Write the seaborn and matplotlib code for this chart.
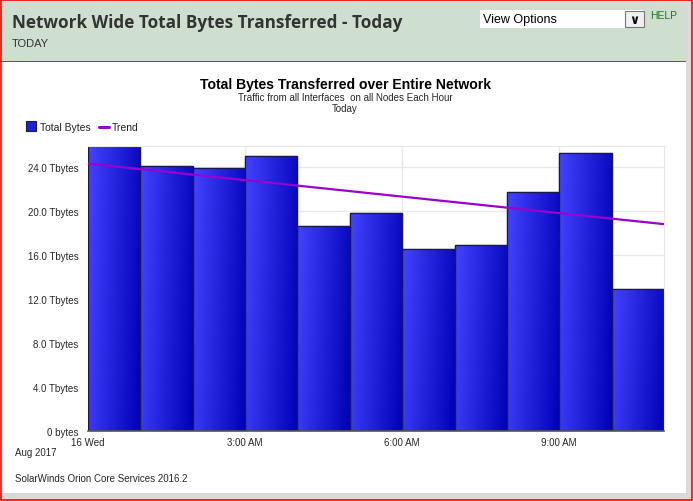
"""
Network wide total bytes per hour, with trend line
"""
import numpy as np
import pandas as pd
import matplotlib
matplotlib.use('Agg')
import matplotlib.pyplot as plt
from matplotlib.patches import Rectangle
from matplotlib.colors import LinearSegmentedColormap
import seaborn as sns

# data (Tbytes per hour, 16 Wed Aug 2017)
hours = [0, 1, 2, 3, 4, 5, 6, 7, 8, 9, 10]
total_tbytes = [25.9, 24.1, 23.9, 25.0, 18.6, 19.8, 16.5, 16.9, 21.7, 25.3, 12.9]
trend_x = [0, 11]
trend_tbytes = [24.3, 18.8]
y_ticks = [0, 4, 8, 12, 16, 20, 24]
y_labels = ['0 bytes', '4.0 Tbytes', '8.0 Tbytes', '12.0 Tbytes', '16.0 Tbytes',
            '20.0 Tbytes', '24.0 Tbytes']
x_ticks = [0, 3, 6, 9]
x_labels = ['16 Wed', '3:00 AM', '6:00 AM', '9:00 AM']

df = pd.DataFrame({'hour': hours, 'tbytes': total_tbytes})

sns.set_style('white')
plt.rcParams['font.family'] = ['Liberation Sans', 'DejaVu Sans']

W, H = 693, 502
fig = plt.figure(figsize=(W / 100, H / 100), dpi=100)
fig.patch.set_facecolor('white')


def px(x0, y0, w, h, **kw):
    # rectangle in pixel coords (top-left origin)
    fig.add_artist(Rectangle((x0 / W, 1 - (y0 + h) / H), w / W, h / H,
                             transform=fig.transFigure, **kw))


# header band
px(0, 0, 686, 62, facecolor='#cfdfcf', edgecolor='none')
px(0, 61.5, 686, 1.5, facecolor='#2e7d2e', edgecolor='none')
# right / bottom grey strips and red border
px(686, 0, 6, H, facecolor='#d9d9d9', edgecolor='none')
px(0, 494, 692, 7, facecolor='#d9d9d9', edgecolor='none')
px(0.5, 0.5, W - 1.5, H - 1.5, facecolor='none', edgecolor='#ff0000', linewidth=1.2)

fig.text(12 / W, 1 - 23 / H, 'Network Wide Total Bytes Transferred - Today',
         fontsize=12.3, fontweight='bold', color='#333333', va='center',
         family=['Open Sans', 'DejaVu Sans'])
fig.text(12 / W, 1 - 44 / H, 'TODAY', fontsize=8, color='#333333', va='center')

# view options box
px(480, 11, 164, 18, facecolor='white', edgecolor='none')
px(625, 12, 19, 16, facecolor='#f0f0f0', edgecolor='#777777', linewidth=0.8)
fig.text(483 / W, 1 - 20 / H, 'View Options', fontsize=9, color='black', va='center')
fig.text(634.5 / W, 1 - 20 / H, '\u2228', fontsize=9, color='black', va='center',
         ha='center', fontweight='bold', family=['DejaVu Sans'])
fig.text(650 / W, 1 - 16 / H, 'HELP', fontsize=7.5, color='#1a7a1a', va='center')

# chart titles
fig.text(345 / W, 1 - 85 / H, 'Total Bytes Transferred over Entire Network',
         fontsize=10.1, fontweight='bold', ha='center', va='center', color='black')
fig.text(345 / W, 1 - 98 / H, 'Traffic from all Interfaces  on all Nodes Each Hour',
         fontsize=7, ha='center', va='center')
fig.text(345 / W, 1 - 109 / H, 'Today', fontsize=7, ha='center', va='center')

# axes
ax = fig.add_axes([88 / W, 1 - 432 / H, (664 - 88) / W, (432 - 147) / H])
sns.histplot(data=df, x='hour', weights='tbytes', bins=list(range(12)),
             color='#2020e0', edgecolor='#1a1a4a', linewidth=0.9, alpha=1,
             ax=ax, zorder=2, legend=False)

# horizontal gradient on each bar
cmap = LinearSegmentedColormap.from_list('bar', ['#4444ff', '#0000b8'])
gx = np.linspace(0, 1, 64)
gy = np.linspace(0, 1, 64)
grad = gx[None, :] * 0.85 + (1 - gy[:, None]) * 0.15
for p in ax.patches:
    x0, w, h = p.get_x(), p.get_width(), p.get_height()
    im = ax.imshow(grad, cmap=cmap, extent=(x0, x0 + w, 0, h), aspect='auto',
                   origin='lower', zorder=2.1, interpolation='bilinear')
    im.set_clip_path(p)
    ax.add_patch(Rectangle((x0, 0), w, h, facecolor='none', edgecolor='#1a1a4a',
                           linewidth=0.9, zorder=2.2))

sns.lineplot(x=trend_x, y=trend_tbytes, color='#9a00d0', linewidth=1.6, ax=ax, zorder=3)

ax.set_xlim(0, 11)
ax.set_ylim(0, 25.9)
ax.set_xticks(x_ticks)
ax.set_xticklabels(x_labels, fontsize=7)
ax.set_yticks(y_ticks)
ax.set_yticklabels(y_labels, fontsize=7)
ax.tick_params(axis='y', length=0, pad=7)
ax.tick_params(axis='x', length=0, pad=4)
ax.set_xlabel('')
ax.set_ylabel('')
ax.grid(True, color='#e8e8e8', linewidth=1, zorder=0)
ax.set_axisbelow(True)
for s in ['top', 'right']:
    ax.spines[s].set_color('#e8e8e8')
ax.spines['left'].set_visible(False)
ax.spines['bottom'].set_color('#555555')
ax.spines['bottom'].set_linewidth(1.2)

# legend drawn by hand in figure pixels
px(26, 122, 10, 10, facecolor='#2020d8', edgecolor='#1a1a4a', linewidth=0.8)
fig.text(40 / W, 1 - 128 / H, 'Total Bytes', fontsize=7.5, va='center', color='#222222')
fig.add_artist(plt.Line2D([99 / W, 109 / W], [1 - 128 / H, 1 - 128 / H],
                          transform=fig.transFigure, color='#9a00d0', linewidth=2.2))
fig.text(112 / W, 1 - 128 / H, 'Trend', fontsize=7.5, va='center', color='#222222')

fig.text(15 / W, 1 - 453 / H, 'Aug 2017', fontsize=7, va='center')
fig.text(15 / W, 1 - 479 / H, 'SolarWinds Orion Core Services 2016.2', fontsize=7, va='center')

plt.savefig('out.png', dpi=100)
